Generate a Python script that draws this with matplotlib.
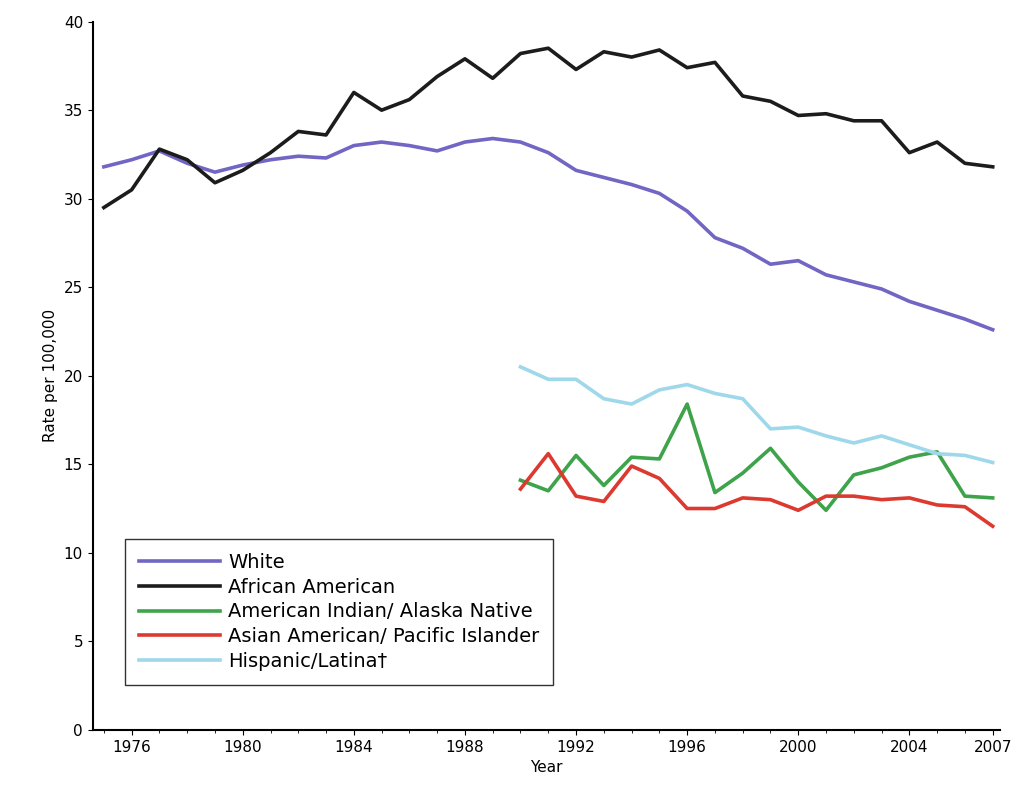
import matplotlib
matplotlib.use("Agg")
import matplotlib.pyplot as plt

years = list(range(1975, 2008))
years_late = list(range(1990, 2008))

white = [31.8, 32.2, 32.7, 32.0, 31.5, 31.9, 32.2, 32.4, 32.3, 33.0, 33.2, 33.0, 32.7,
         33.2, 33.4, 33.2, 32.6, 31.6, 31.2, 30.8, 30.3, 29.3, 27.8, 27.2, 26.3, 26.5,
         25.7, 25.3, 24.9, 24.2, 23.7, 23.2, 22.6]
african_american = [29.5, 30.5, 32.8, 32.2, 30.9, 31.6, 32.6, 33.8, 33.6, 36.0, 35.0, 35.6,
                    36.9, 37.9, 36.8, 38.2, 38.5, 37.3, 38.3, 38.0, 38.4, 37.4, 37.7, 35.8,
                    35.5, 34.7, 34.8, 34.4, 34.4, 32.6, 33.2, 32.0, 31.8]
am_indian = [14.1, 13.5, 15.5, 13.8, 15.4, 15.3, 18.4, 13.4, 14.5, 15.9, 14.0, 12.4,
             14.4, 14.8, 15.4, 15.7, 13.2, 13.1]
asian_pi = [13.6, 15.6, 13.2, 12.9, 14.9, 14.2, 12.5, 12.5, 13.1, 13.0, 12.4, 13.2,
            13.2, 13.0, 13.1, 12.7, 12.6, 11.5]
hispanic = [20.5, 19.8, 19.8, 18.7, 18.4, 19.2, 19.5, 19.0, 18.7, 17.0, 17.1, 16.6,
            16.2, 16.6, 16.1, 15.6, 15.5, 15.1]

xticks = [1976, 1980, 1984, 1988, 1992, 1996, 2000, 2004, 2007]

fig = plt.figure(figsize=(10.19, 8.02), dpi=100)
ax = fig.add_axes([0.091, 0.09, 0.89, 0.883])
lw = 2.6
ax.plot(years, white, color="#7166c4", lw=lw, label="White")
ax.plot(years, african_american, color="#1c1c1c", lw=lw, label="African American")
ax.plot(years_late, am_indian, color="#3ea34a", lw=lw, label="American Indian/ Alaska Native")
ax.plot(years_late, asian_pi, color="#dc3a30", lw=lw, label="Asian American/ Pacific Islander")
ax.plot(years_late, hispanic, color="#9fd8ea", lw=lw, label="Hispanic/Latina\u2020")

ax.set_xlim(1974.6, 2007.25)
ax.set_ylim(0, 40)
ax.set_xticks(xticks)
ax.set_xticks(years, minor=True)
ax.set_yticks(range(0, 41, 5))
ax.tick_params(labelsize=11)
for s in ("top", "right"):
    ax.spines[s].set_visible(False)
for s in ("left", "bottom"):
    ax.spines[s].set_linewidth(1.5)
ax.set_xlabel("Year", fontsize=11)
ax.set_ylabel("Rate per 100,000", fontsize=11)
leg = ax.legend(loc="lower left", bbox_to_anchor=(0.025, 0.05), fontsize=14,
                fancybox=False, edgecolor="black", handlelength=4.2, borderpad=0.7,
                labelspacing=0.3, handletextpad=0.4, frameon=True)
leg.get_frame().set_linewidth(1.0)
fig.savefig("out.png", dpi=100)
